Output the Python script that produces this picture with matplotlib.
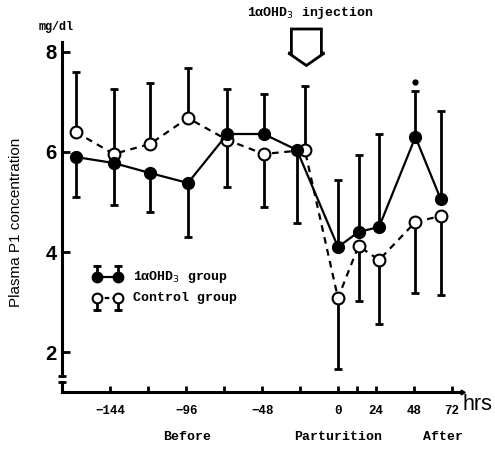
import matplotlib
matplotlib.use('Agg')
import matplotlib.pyplot as plt
import numpy as np
from matplotlib.patches import Polygon
from matplotlib.transforms import ScaledTranslation

# time of each sampling (hrs from parturition)
hrs_treated = [-166, -142, -119, -95, -70, -47, -26, 0, 13, 26, 49, 65]
hrs_control = [-166, -142, -119, -95, -70, -47, -21, 0, 13, 26, 49, 65]

# plasma Pi (mg/dl), mean and SD
treated_mean = [5.90, 5.78, 5.58, 5.38, 6.36, 6.36, 6.04, 4.10, 4.40, 4.50, 6.30, 5.06]
treated_sd = [0.80, 0.84, 0.78, 1.08, 0.90, 0.80, 1.46, 1.34, 1.54, 1.86, 0.92, 1.76]
control_mean = [6.40, 5.96, 6.16, 6.68, 6.24, 5.96, 6.04, 3.08, 4.12, 3.84, 4.60, 4.72]
control_sd = [1.20, 1.30, 1.22, 1.00, 0.94, 1.06, 1.28, 1.42, 1.10, 1.28, 1.42, 1.58]
# SD bar drawn only on one side: +1 up, -1 down
treated_side = [-1, -1, -1, -1, 1, 1, -1, 1, 1, 1, 1, 1]

major_ticks = [-144, -96, -48, 0, 24, 48, 72]
minor_ticks = [-120, -72, -24, 12]
y_ticks = [2, 4, 6, 8]
signif_hr = 49
inject_hr = -20

mono = ['Liberation Mono', 'DejaVu Sans Mono']
W, H = 495, 449

fig = plt.figure(figsize=(4.95, 4.49), dpi=100)
ax = fig.add_axes([62/W, 1-392/H, 400/W, 392/H])
ax.set_xlim(-174.7, 78.5)
ax.set_ylim(1.2, 9.04)

def fx(px):
    return px / W

def fy(py):
    return 1 - py / H

tm = np.array(treated_mean); ts = np.array(treated_sd)
cm = np.array(control_mean); cs = np.array(control_sd)
side = np.array(treated_side)
t_err = [np.where(side < 0, ts, 0), np.where(side > 0, ts, 0)]
c_err = [np.where(side > 0, cs, 0), np.where(side < 0, cs, 0)]

ax.errorbar(hrs_control, cm, yerr=c_err, fmt='none', ecolor='black',
            elinewidth=2, capsize=3.2, capthick=2, zorder=2)
ax.errorbar(hrs_treated, tm, yerr=t_err, fmt='none', ecolor='black',
            elinewidth=2, capsize=3.2, capthick=2, zorder=2)

ax.plot(hrs_control, cm, color='black', lw=1.6, dashes=(3, 2.5),
        marker='o', ms=8.5, mfc='white', mec='black', mew=1.5, zorder=3)
ax.plot(hrs_treated, tm, color='black', lw=1.6,
        marker='o', ms=8.5, mfc='black', mec='black', zorder=4)

# significance mark
ax.plot([signif_hr], [7.4], 'o', color='black', ms=3.5, zorder=4)

# spines
for s in ['top', 'right']:
    ax.spines[s].set_visible(False)
ax.spines['left'].set_linewidth(2.2)
ax.spines['bottom'].set_linewidth(2.2)
ax.spines['left'].set_bounds(1.52, 8.2)
ax.plot([0, 0], [1.2, 1.4], color='black', lw=2.2,
        transform=ax.get_yaxis_transform(), clip_on=False)
ax.plot([0, 0], [1.52, 1.4], ls='none', marker='_', ms=6, mew=2,
        color='black', transform=ax.get_yaxis_transform(), clip_on=False)
# little arrow tip at the end of the time axis
ax.plot([1], [0], marker=(3, 0, -90), ms=4, color='black',
        transform=ax.transAxes, clip_on=False)

ax.set_yticks(y_ticks)
ax.set_yticklabels([str(v) for v in y_ticks], fontsize=14.5, fontweight='bold',
                   family='Liberation Sans')
ax.tick_params(axis='y', direction='in', length=6, width=2, pad=4)
ax.set_xticks(major_ticks)
ax.set_xticks(minor_ticks, minor=True)
ax.set_xticklabels([str(v).replace('-', '\u2212') for v in major_ticks],
                   fontsize=9, fontweight='bold', family=mono)
ax.tick_params(axis='x', which='both', direction='in', length=4, width=2, pad=9)

# texts
fig.text(fx(492), fy(404), 'hrs', fontsize=15.5, family='Liberation Sans',
         ha='right', va='center')
fig.text(fx(187), fy(437), 'Before', fontsize=9.5, fontweight='bold',
         family=mono, ha='center', va='center')
fig.text(fx(338), fy(437), 'Parturition', fontsize=9.5, fontweight='bold',
         family=mono, ha='center', va='center')
fig.text(fx(443), fy(437), 'After', fontsize=9.5, fontweight='bold',
         family=mono, ha='center', va='center')
fig.text(fx(56), fy(27), 'mg/dl', fontsize=8.5, fontweight='bold',
         family=mono, ha='center', va='center')
fig.text(fx(16), fy(222), 'Plasma P1 concentration', fontsize=11,
         family='Liberation Sans', rotation=90, ha='center', va='center')
fig.text(fx(310), fy(13), '1\u03b1OHD$_3$ injection', fontsize=9.5,
         fontweight='bold', family=mono, ha='center', va='center')

# injection arrow
trans = fig.dpi_scale_trans + ScaledTranslation(inject_hr, 8.46, ax.transData)
arrow = Polygon([(-0.15, 0), (0.15, 0), (0.15, -0.24), (0.18, -0.24),
                 (0, -0.365), (-0.18, -0.24), (-0.15, -0.24)], closed=True,
                fc='white', ec='black', lw=2, transform=trans, clip_on=False)
ax.add_patch(arrow)

# legend
def legend_row(py, filled, label):
    xs = [fx(97), fx(118)]
    ys = [fy(py), fy(py)]
    ax.plot(xs, ys, color='black', lw=1.6, transform=fig.transFigure,
            clip_on=False, ls='-' if filled else (0, (2, 1.5)))
    end = py - 11 if filled else py + 12
    for x in xs:
        ax.plot([x, x], [fy(py), fy(end)], color='black', lw=2,
                transform=fig.transFigure, clip_on=False)
        ax.plot([x], [fy(end)], marker='_', ms=6, mew=2, color='black',
                transform=fig.transFigure, clip_on=False)
    ax.plot(xs, ys, ls='none', marker='o', ms=7, mfc='black' if filled else 'white',
            mec='black', mew=1.5, transform=fig.transFigure, clip_on=False, zorder=5)
    fig.text(fx(133), fy(py), label, fontsize=9.5, fontweight='bold',
             family=mono, ha='left', va='center')

legend_row(277, True, '1\u03b1OHD$_3$ group')
legend_row(298, False, 'Control group')

plt.savefig('out.png', dpi=100)
